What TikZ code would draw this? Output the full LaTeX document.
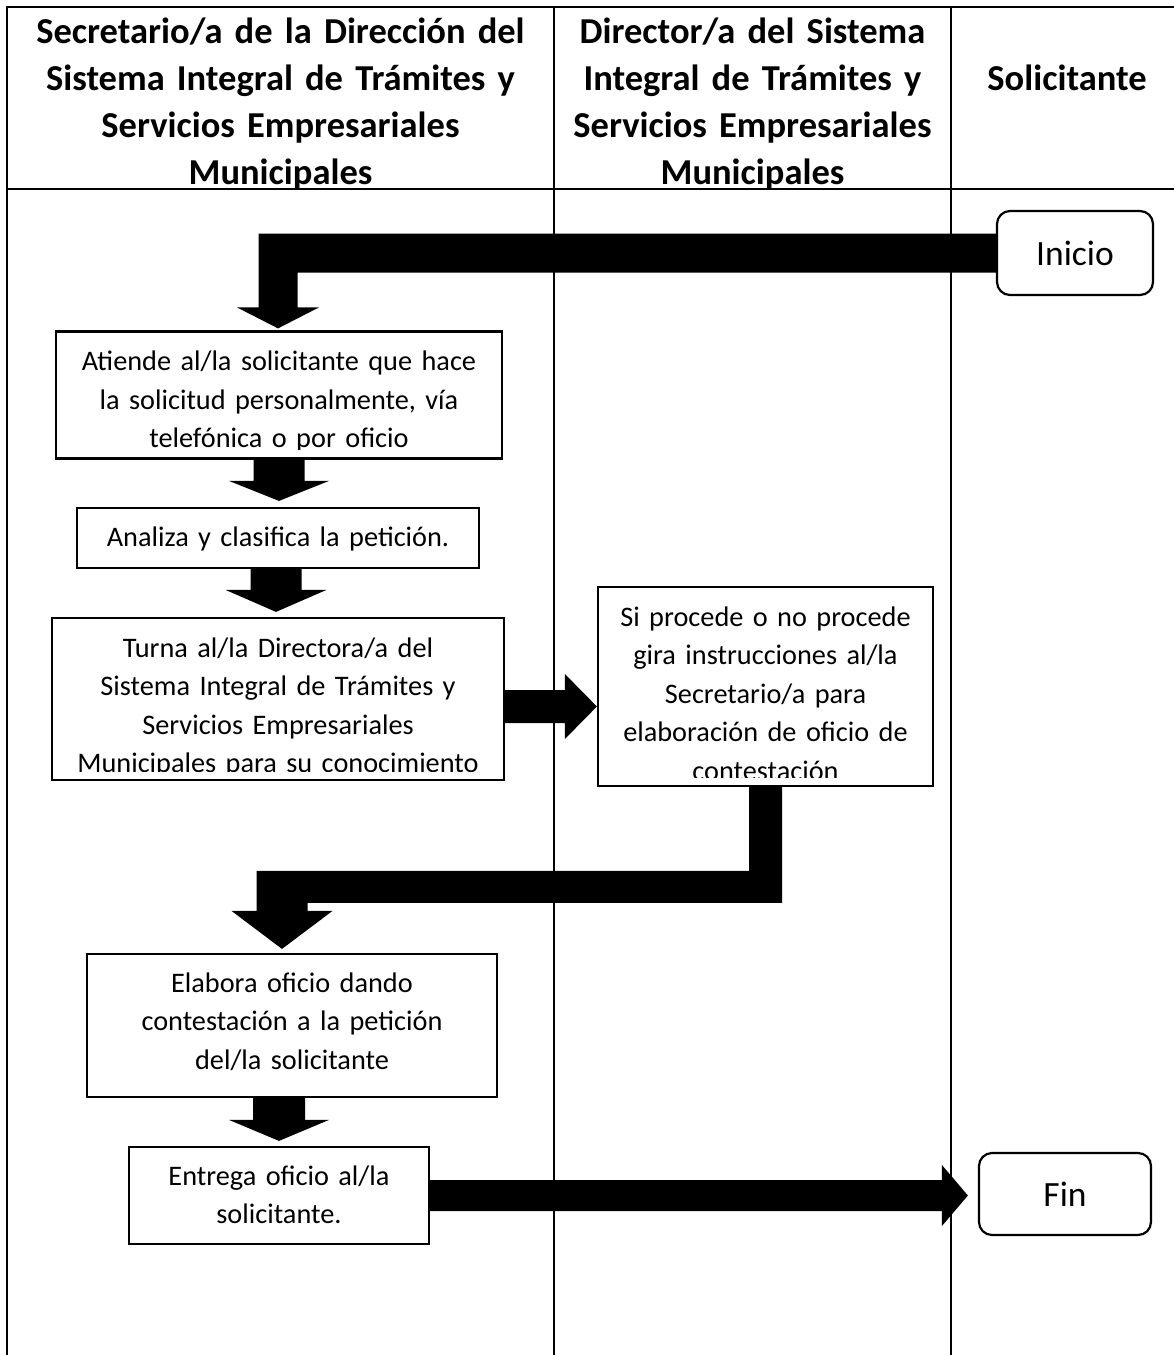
\documentclass[tikz,border=0pt]{standalone}
\usepackage{fontspec}
\setmainfont{Carlito}
\usetikzlibrary{calc}

% straight block arrows: #1 start, #2 tip, #3 shaft half width, #4 head half width, #5 head length
\newcommand\downblock[5]{%
  \fill let \p1=(#1), \p2=(#2) in
    (\x2-#3pt,\y1) -- (\x2+#3pt,\y1) -- (\x2+#3pt,\y2+#5pt) -- (\x2+#4pt,\y2+#5pt)
    -- (\x2,\y2) -- (\x2-#4pt,\y2+#5pt) -- (\x2-#3pt,\y2+#5pt) -- cycle;}
\newcommand\rightblock[5]{%
  \fill let \p1=(#1), \p2=(#2) in
    (\x1,\y2+#3pt) -- (\x2-#5pt,\y2+#3pt) -- (\x2-#5pt,\y2+#4pt) -- (\x2,\y2)
    -- (\x2-#5pt,\y2-#4pt) -- (\x2-#5pt,\y2-#3pt) -- (\x1,\y2-#3pt) -- cycle;}

\tikzset{
  lane/.style={line width=2.2pt},
  stepbox/.style={draw, line width=2.2pt, rectangle, inner sep=0pt},
  termbox/.style={draw, line width=2.2pt, rounded corners=13pt, inner sep=0pt,
    font=\fontsize{35.5}{42}\selectfont},
  boxtext/.style={anchor=base, text width=600pt, align=center, inner sep=0pt,
    font=\fontsize{28.3}{38.5}\selectfont},
  headtext/.style={anchor=base, text width=540pt, align=center, inner sep=0pt,
    font=\bfseries\fontsize{36.5}{47}\selectfont},
}

\begin{document}
\begin{tikzpicture}[x=1pt,y=-1pt]
\useasboundingbox (0,0) rectangle (1174,1355);
\fill[white] (0,0) rectangle (1174,1355);

% swimlane table
\draw[lane] (7,1360) -- (7,7) -- (1190,7);
\draw[lane] (7,189) -- (1190,189);
\draw[lane] (554,7) -- (554,1360);
\draw[lane] (951,7) -- (951,1360);

% lane headings
\node[headtext] (h1) at (280.5,43.5) {Secretario/a de la Dirección del\\Sistema Integral de Trámites y\\Servicios Empresariales\\Municipales};
\node[headtext] (h2) at (752.5,43.5) {Director/a del Sistema\\Integral de Trámites y\\Servicios Empresariales\\Municipales};
\node[headtext] (h3) at (1067,90.5) {Solicitante};

% process steps
\node[stepbox, minimum width=446pt, minimum height=127pt] (b1) at (279,395) {};
\node[stepbox, minimum width=402pt, minimum height=60pt] (b2) at (278,538) {};
\node[stepbox, minimum width=452pt, minimum height=162pt] (b3) at (278,699) {};
\node[stepbox, minimum width=335pt, minimum height=199pt] (b4) at (765.5,686.5) {};
\node[stepbox, minimum width=410pt, minimum height=143pt] (b5) at (292,1025.5) {};
\node[stepbox, minimum width=300pt, minimum height=97pt] (b6) at (279,1195.5) {};
\node[termbox, minimum width=156pt, minimum height=84pt] (inicio) at (1075,253) {Inicio};
\node[termbox, minimum width=172pt, minimum height=82pt] (fin) at (1065,1194) {Fin};

% step texts, cut off by the text frame of each box
\begin{scope}
\clip ($(b1.north west)+(2,2)$) rectangle ($(b1.south east)+(-2,-10)$);
\node[boxtext] (t1) at (279,370.5) {Atiende al/la solicitante que hace\\la solicitud personalmente, vía\\telefónica o por oficio};
\end{scope}
\node[boxtext] (t2) at (278,546.5) {Analiza y clasifica la petición.};
\begin{scope}
\clip ($(b3.north west)+(2,2)$) rectangle ($(b3.south east)+(-2,-10)$);
\node[boxtext] (t3) at (278,657) {Turna al/la Directora/a del\\Sistema Integral de Trámites y\\Servicios Empresariales\\Municipales para su conocimiento};
\end{scope}
\begin{scope}
\clip ($(b4.north west)+(2,2)$) rectangle ($(b4.south east)+(-2,-10)$);
\node[boxtext] (t4) at (765.5,626) {Si procede o no procede\\gira instrucciones al/la\\Secretario/a para\\elaboración de oficio de\\contestación};
\end{scope}
\node[boxtext] (t5) at (292,992) {Elabora oficio dando\\contestación a la petición\\del/la solicitante};
\node[boxtext] (t6) at (279,1185) {Entrega oficio al/la\\solicitante.};

% arrow tips
\coordinate (t01) at ($(b1.north)+(-1,-2)$);
\coordinate (t12) at ($(b2.north)+(1,-6)$);
\coordinate (t23) at ($(b3.north)+(-2,-5)$);
\coordinate (t34) at ($(b4.west)+(0,20)$);
\coordinate (t45) at ($(b5.north)+(-10,-4)$);
\coordinate (t56) at ($(b6.north)+(0,-5)$);
\coordinate (t6f) at ($(fin.west)+(-10,1.5)$);

% Inicio -> first step (bent block arrow)
\fill let \p1=(inicio.west), \p2=(t01) in
  (\x1,\y1+19.5pt) -- (\x2-19.5pt,\y1+19.5pt) -- (\x2-19.5pt,\y2+21pt) -- (\x2-41pt,\y2+21pt)
  -- (\x2,\y2) -- (\x2+41pt,\y2+21pt) -- (\x2+19.5pt,\y2+21pt) -- (\x2+19.5pt,\y1-19.5pt)
  -- (\x1,\y1-19.5pt) -- cycle;

\downblock{b1.south}{t12}{25.5}{50}{20}
\downblock{b2.south}{t23}{25.5}{50.5}{22}
\rightblock{b3.east}{t34}{16.5}{32.5}{32}

% Director's reply back to the secretary lane (bent block arrow)
\fill let \p1=(b4.south), \p2=(t45) in
  (\x1-16.5pt,\y1) -- (\x1+16.5pt,\y1) -- (\x1+16.5pt,\y2+46pt) -- (\x2+25.5pt,\y2+46pt)
  -- (\x2+25.5pt,\y2+38pt) -- (\x2+50.5pt,\y2+38pt) -- (\x2,\y2) -- (\x2-50.5pt,\y2+38pt)
  -- (\x2-25.5pt,\y2+38pt) -- (\x2-25.5pt,\y2+78pt) -- (\x1-16.5pt,\y2+78pt) -- cycle;

\downblock{b5.south}{t56}{26}{50}{21}
\rightblock{b6.east}{t6f}{15.5}{30.5}{26}
\end{tikzpicture}
\end{document}
